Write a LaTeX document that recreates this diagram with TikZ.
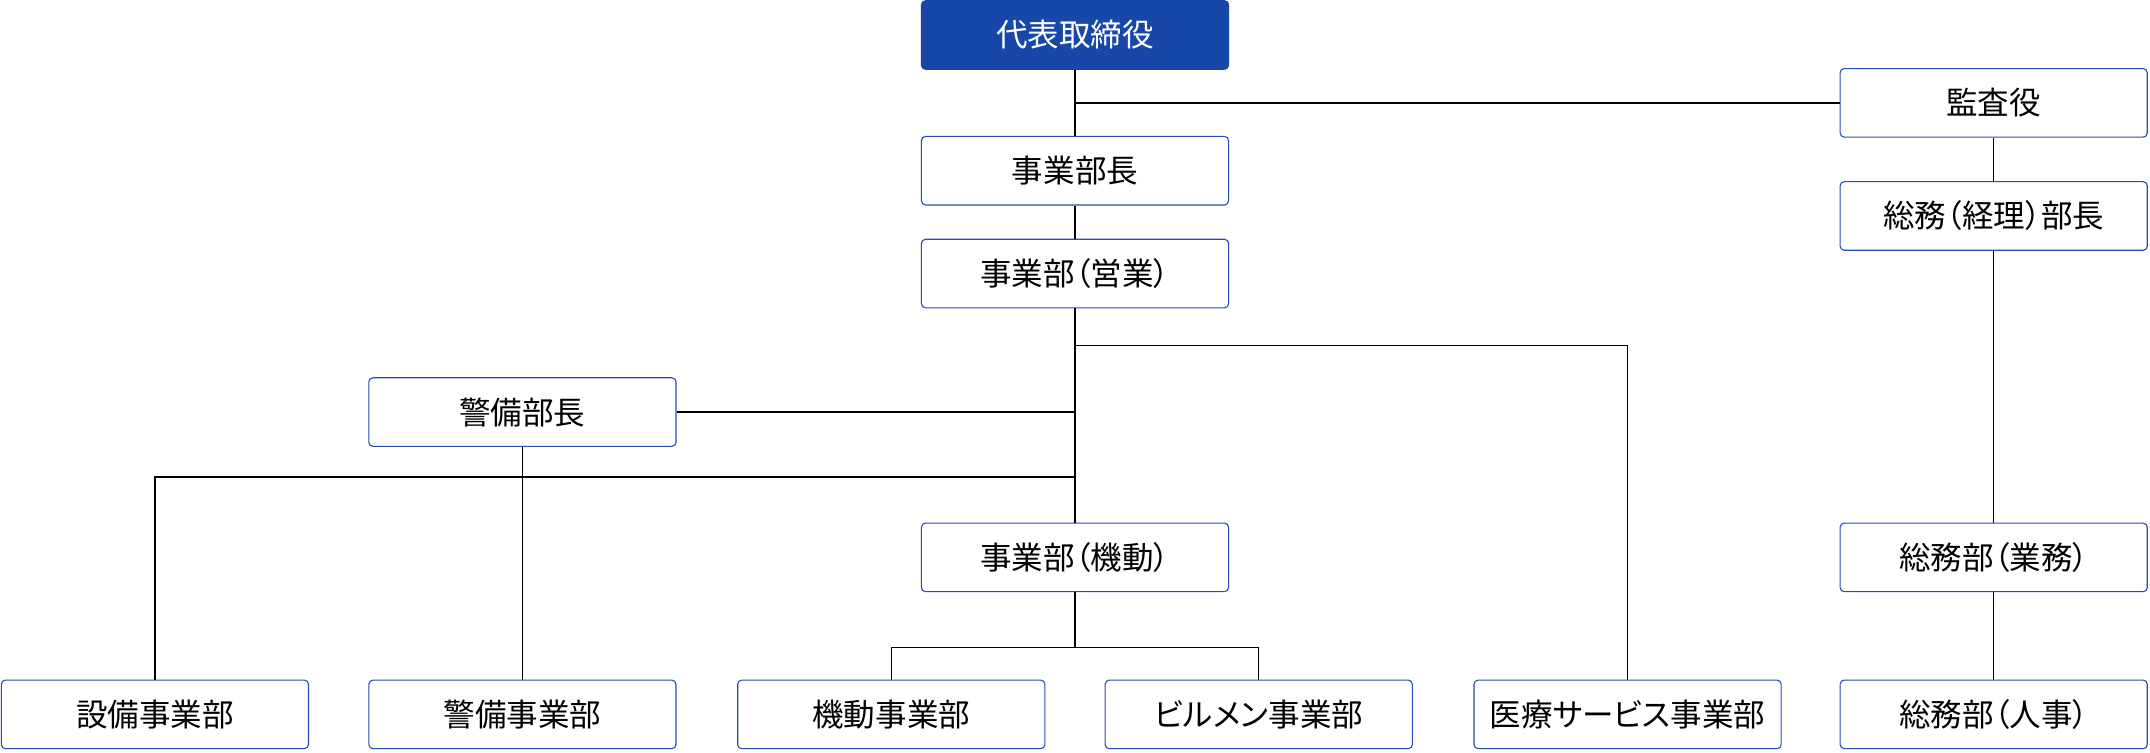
\documentclass[tikz,border=0pt]{standalone}
\usepackage{fontspec}
\setmainfont[RawFeature=+palt]{Noto Sans CJK JP}
\begin{document}
\begin{tikzpicture}[x=1pt,y=-1pt,
  box/.style={draw={rgb,255:red,40;green,75;blue,185},line width=0.8pt,rounded corners=3pt,fill=white,minimum width=224pt,minimum height=50pt,font=\fontsize{23}{26}\selectfont,inner sep=0pt},
  top/.style={box,fill={rgb,255:red,23;green,71;blue,168},draw={rgb,255:red,23;green,71;blue,168},text=white},
  ln/.style={line width=1pt}]
\useasboundingbox (0,0) rectangle (1568,549);
\node[top] (ceo) at (784,25.5) {代表取締役};
\node[box] (kansa) at (1454,75) {監査役};
\node[box] (jbc) at (784,124.5) {事業部長};
\node[box] (eig) at (784,199.5) {事業部（営業）};
\node[box] (soukei) at (1454,157.5) {総務（経理）部長};
\node[box] (keibic) at (381,300.5) {警備部長};
\node[box] (kido) at (784,406.5) {事業部（機動）};
\node[box] (sgyo) at (1454,406.5) {総務部（業務）};
\node[box] (setsu) at (113,521) {設備事業部};
\node[box] (keibi) at (381,521) {警備事業部};
\node[box] (kidoj) at (650,521) {機動事業部};
\node[box] (biru) at (918,521) {ビルメン事業部};
\node[box] (iryo) at (1187,521) {医療サービス事業部};
\node[box] (jinji) at (1454,521) {総務部（人事）};
\coordinate (a) at (784,75);
\draw[ln] (ceo) -- (jbc);
\draw[ln] (a) -- (kansa.west);
\draw[ln] (jbc) -- (eig);
\draw[ln] (kansa) -- (soukei);
\draw[ln] (soukei) -- (sgyo);
\draw[ln] (sgyo) -- (jinji);
\draw[ln] (eig) -- (kido);
\coordinate (b) at (784,252);
\draw[ln] (b) -| (iryo.north);
\coordinate (c) at (784,300.5);
\draw[ln] (keibic.east) -- (c);
\draw[ln] (keibic) -- (keibi);
\coordinate (d) at (784,348);
\draw[ln] (d) -| (setsu.north);
\coordinate (e) at (784,472);
\draw[ln] (kido) -- (e);
\draw[ln] (kidoj.north) |- (e) -| (biru.north);
\end{tikzpicture}
\end{document}
